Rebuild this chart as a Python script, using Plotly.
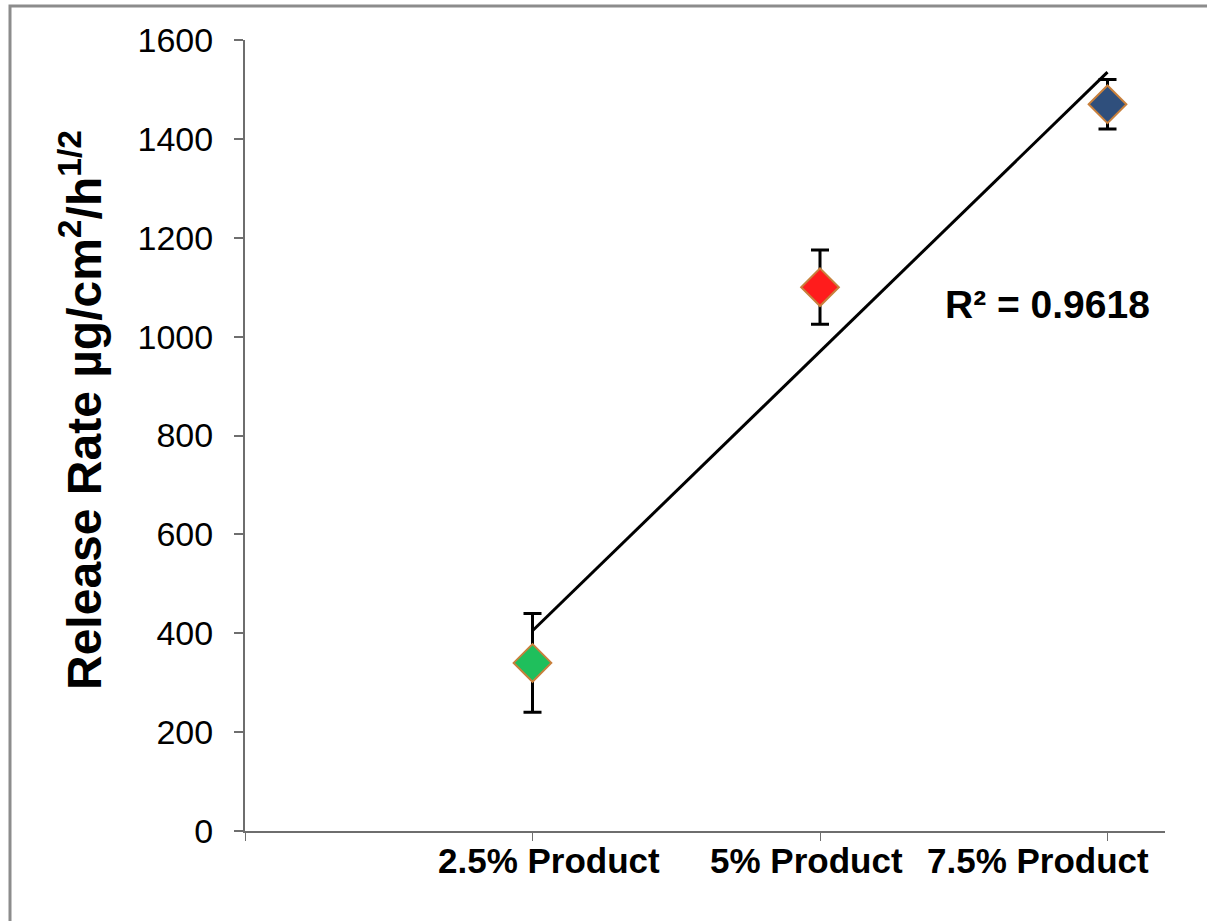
import numpy as np
import plotly.graph_objects as go

# ---- data ----
categories = ["2.5% Product", "5% Product", "7.5% Product"]
x_pos = [1, 2, 3]
release_rate = [340, 1100, 1470]
error = [100, 75, 50]
marker_colors = ["#1fbf5c", "#ff1c1c", "#2f4f7c"]
y_ticks = [0, 200, 400, 600, 800, 1000, 1200, 1400, 1600]
label_shift = [16, -14, -70]

# ---- linear trend ----
slope, intercept = np.polyfit(x_pos, release_rate, 1)
fit = [slope * x + intercept for x in x_pos]
ss_res = sum((y - f) ** 2 for y, f in zip(release_rate, fit))
mean_y = np.mean(release_rate)
ss_tot = sum((y - mean_y) ** 2 for y in release_rate)
r2 = 1 - ss_res / ss_tot

W, H = 1207, 921
ML, MR, MT, MB = 245, 42, 40, 90
FONT = "Liberation Sans, Arial, sans-serif"

fig = go.Figure()
fig.add_trace(go.Scatter(
    x=[x_pos[0], x_pos[-1]], y=[fit[0], fit[-1]], mode="lines",
    line=dict(color="black", width=3), showlegend=False, hoverinfo="skip"))
fig.add_trace(go.Scatter(
    x=x_pos, y=release_rate, mode="markers",
    marker=dict(symbol="diamond", size=29, color=marker_colors,
                line=dict(color="#c8803c", width=2)),
    error_y=dict(type="data", array=error, visible=True, color="black",
                 thickness=3, width=9),
    showlegend=False))

# R^2 label
fig.add_annotation(x=2.79, y=1065, xref="x", yref="y",
                   text=f"R² = {r2:.4f}", showarrow=False,
                   font=dict(family=FONT, size=39, color="black", weight="bold"))

# category labels
for xp, cat, sh in zip(x_pos, categories, label_shift):
    fig.add_annotation(x=xp, y=0, xref="x", yref="paper", yanchor="top",
                       xshift=sh, yshift=-8, text=cat, showarrow=False,
                       font=dict(family=FONT, size=35, color="black", weight="bold"))

pw, ph = W - ML - MR, H - MT - MB

# y-axis title
fig.add_annotation(x=(81 - ML) / pw, y=(H - MB - 410) / ph, xref="paper", yref="paper",
                   text="Release Rate µg/cm<sup>2</sup>/h<sup>1/2</sup>", textangle=-90,
                   showarrow=False, xanchor="center", yanchor="middle",
                   font=dict(family=FONT, size=48, color="black", weight="bold"))

# outer border
fig.add_shape(type="rect", xref="paper", yref="paper",
              x0=(10 - ML) / pw, x1=(W + 20 - ML) / pw,
              y0=-(MB + 20) / ph, y1=(H - 6 - MB) / ph,
              line=dict(color="#8c8c8c", width=3), fillcolor="rgba(0,0,0,0)", layer="below")

fig.update_layout(
    width=W, height=H,
    margin=dict(l=ML, r=MR, t=MT, b=MB, autoexpand=False),
    paper_bgcolor="white", plot_bgcolor="white",
    font=dict(family=FONT, color="black"),
    xaxis=dict(range=[0, 3.2], tickvals=[0] + x_pos, showticklabels=False,
               showgrid=False, zeroline=False, showline=True, linecolor="#6e6e6e",
               linewidth=2, ticks="outside", ticklen=8, tickcolor="#6e6e6e", tickwidth=1,
               automargin=False),
    yaxis=dict(range=[0, 1600], tickvals=y_ticks, showgrid=False, zeroline=False,
               showline=True, linecolor="#6e6e6e", linewidth=2, ticks="outside",
               ticklen=9, tickcolor="#6e6e6e", tickwidth=2, ticklabelstandoff=14,
               tickfont=dict(family=FONT, size=34, color="black"), automargin=False),
)

fig.write_html("out.html", config={"displayModeBar": False},
               post_script="document.body.style.margin='0';")
